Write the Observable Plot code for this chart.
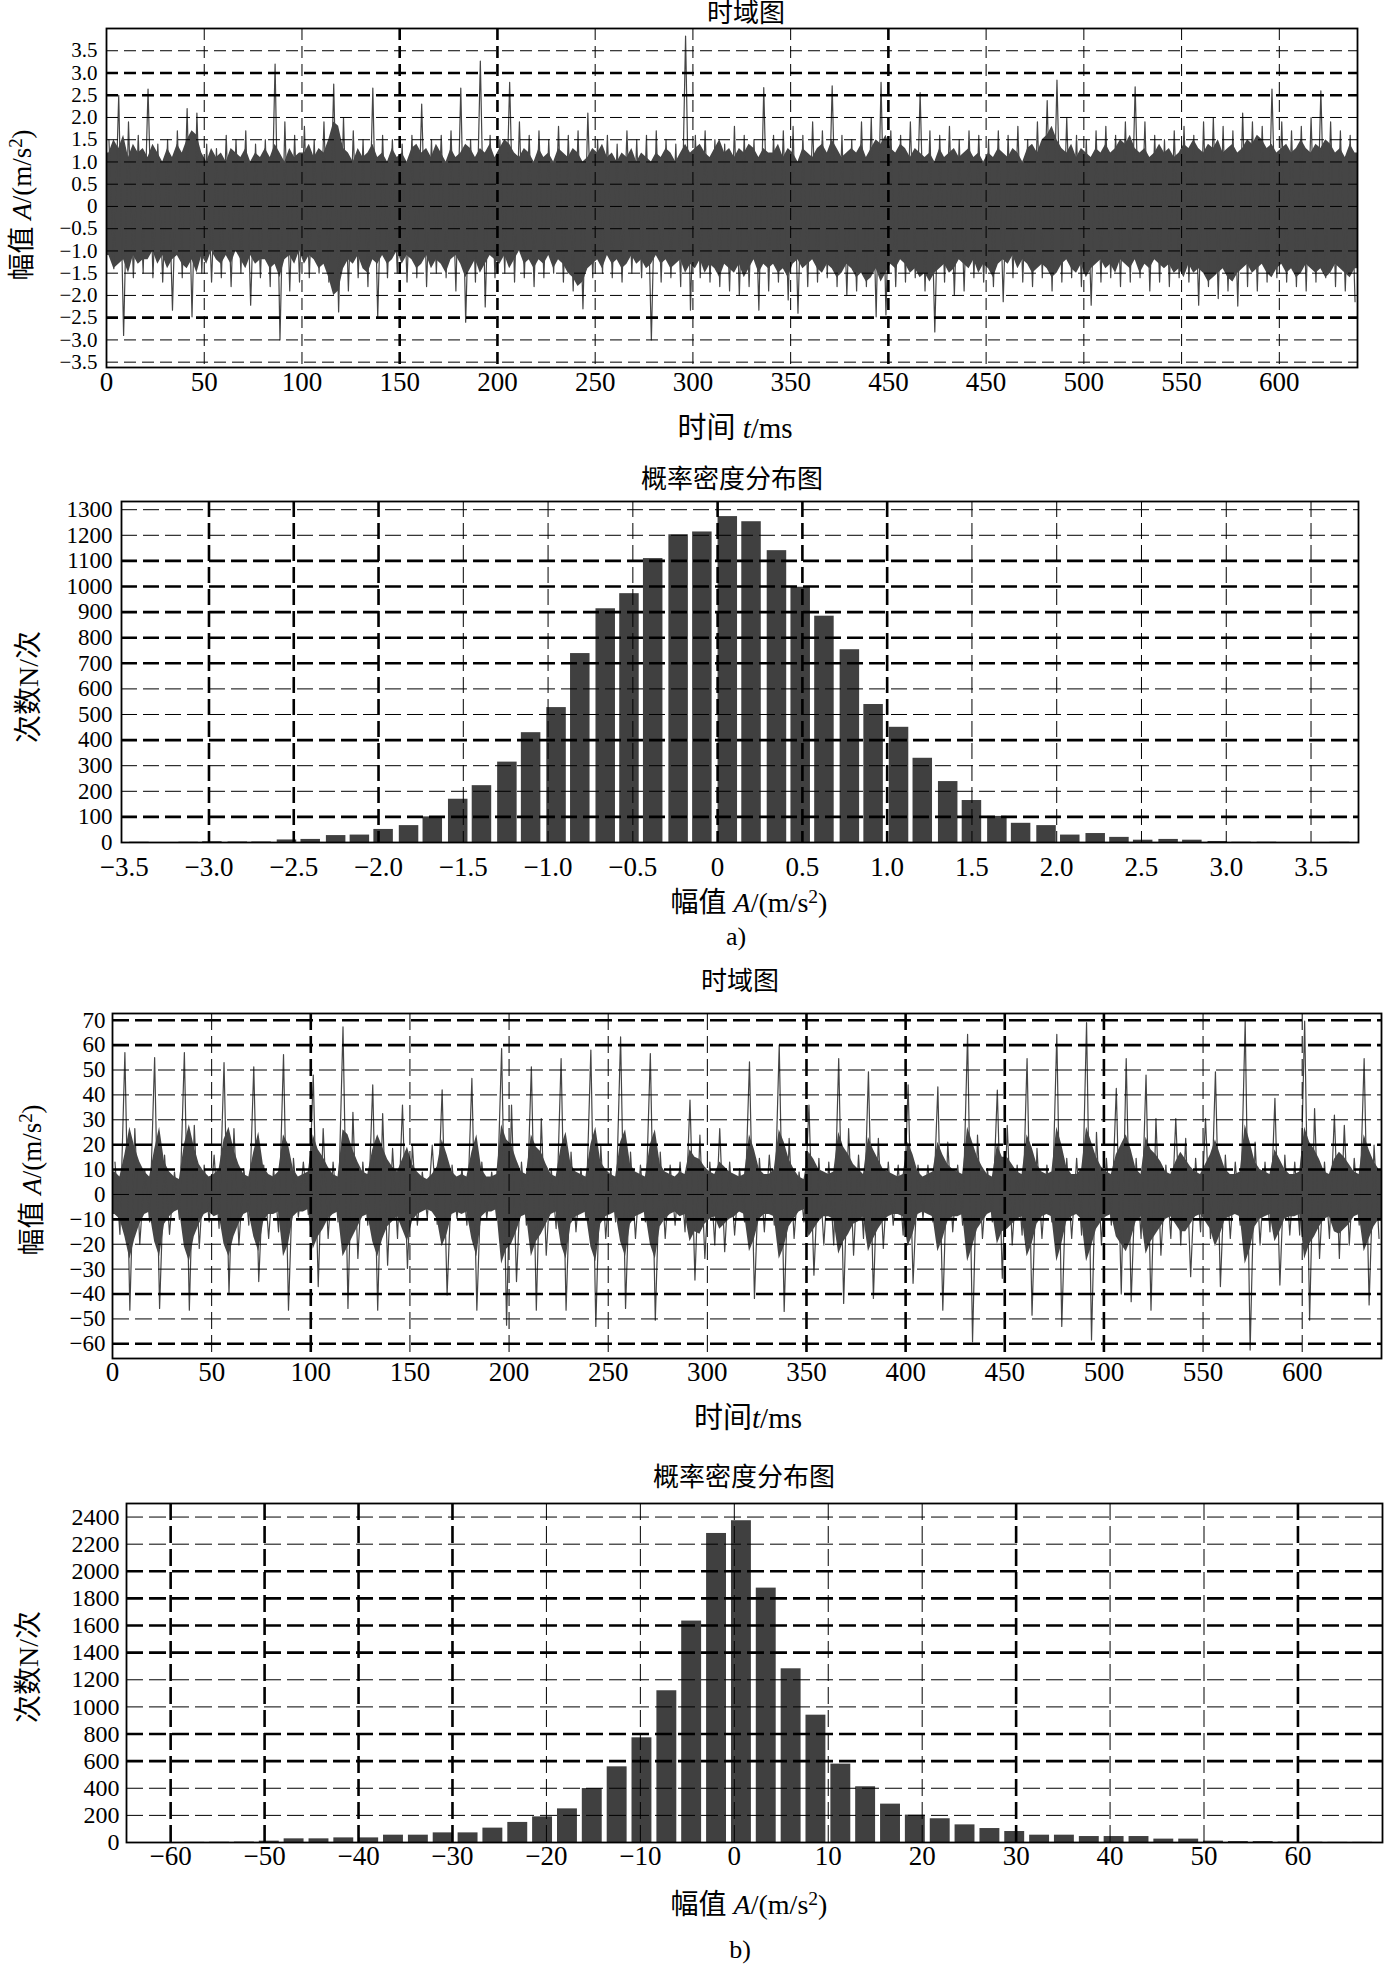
<!DOCTYPE html>
<html><head><meta charset="utf-8">
<script src="https://cdn.jsdelivr.net/npm/d3@7"></script>
<script src="https://cdn.jsdelivr.net/npm/@observablehq/plot@0.6"></script>
<style>
body{margin:0;background:#fff;}
#root{position:relative;width:1384px;height:1977px;overflow:hidden;font-family:"Liberation Serif","Noto Sans CJK SC",serif;color:#000;}
.lbl{position:absolute;white-space:nowrap;line-height:1;}
.lbl i{font-family:"Liberation Serif",serif;font-style:italic;}
.lbl sup{font-size:0.7em;vertical-align:0.45em;line-height:0;}
</style></head>
<body><div id="root"></div>
<script>
// ---------- Panel a: time-domain signal ----------
// spike extremes per 5 ms bin
const hiA = [1.5, 2.5, 1.9, 1.6, 2.64, 1.4, 1.5, 1.7, 2.2, 2.1,
 1.4, 1.3, 1.6, 1.5, 1.7, 1.4, 1.5, 3.2, 1.9, 1.6,
 1.8, 1.5, 1.9, 2.75, 2.0, 1.7, 1.5, 2.66, 1.6, 1.5,
 1.4, 1.6, 2.3, 1.5, 1.6, 1.7, 2.66, 1.5, 3.27, 1.6,
 1.5, 2.79, 1.9, 1.6, 1.7, 1.5, 1.8, 1.6, 1.7, 2.1,
 1.5, 1.6, 1.4, 1.7, 1.5, 1.6, 1.7, 1.5, 1.4, 3.83,
 1.6, 1.7, 1.5, 1.4, 1.8, 1.6, 1.5, 2.67, 1.6, 1.7,
 1.8, 1.6, 1.9, 1.7, 2.71, 1.6, 1.5, 1.9, 2.0, 2.79,
 1.7, 1.6, 1.9, 2.56, 1.7, 1.6, 1.8, 1.5, 1.7, 1.6,
 1.5, 1.7, 1.6, 1.8, 1.5, 1.9, 2.38, 2.84, 2.0, 1.6,
 1.5, 1.7, 1.8, 1.6, 1.9, 2.69, 1.9, 1.6, 1.5, 1.7,
 1.8, 1.6, 1.9, 2.0, 1.8, 1.7, 2.1, 1.9, 1.8, 2.64,
 1.9, 1.7, 1.8, 2.0, 2.6, 1.9, 1.7, 1.6];
const loA = [-1.4, -2.9, -1.6, -1.5, -1.6, -1.7, -2.33, -1.6, -2.48, -1.5,
 -1.7, -1.6, -1.8, -1.5, -2.22, -1.6, -1.8, -3.0, -1.9, -1.7,
 -1.6, -1.5, -1.7, -2.37, -1.9, -1.6, -1.8, -2.48, -1.6, -1.5,
 -1.7, -1.6, -1.8, -1.5, -1.6, -1.9, -2.6, -1.7, -2.26, -1.6,
 -1.5, -1.7, -1.6, -1.8, -1.6, -1.5, -1.7, -1.9, -2.3, -1.6,
 -1.5, -1.6, -1.7, -1.5, -1.6, -3.0, -1.7, -1.6, -1.8, -2.33,
 -1.6, -1.7, -1.8, -1.9, -2.0, -1.8, -2.33, -1.9, -1.7, -2.1,
 -2.4, -1.8, -1.7, -1.6, -1.8, -2.0, -1.9, -1.8, -2.48, -2.44,
 -1.8, -1.7, -1.6, -1.9, -2.82, -1.7, -2.0, -1.9, -1.6, -1.7,
 -1.8, -2.14, -1.6, -1.7, -1.8, -1.6, -1.9, -1.7, -1.6, -1.8,
 -2.22, -1.7, -1.6, -1.8, -1.7, -1.6, -1.9, -1.7, -1.8, -1.6,
 -1.7, -2.22, -1.8, -2.07, -1.9, -2.24, -1.8, -1.9, -1.7, -1.6,
 -1.7, -1.8, -1.9, -1.7, -1.6, -1.8, -1.9, -2.14];
// dense band envelope per 2.5 ms
const envHiA = [1.2, 1.5, 1.3, 1.6, 1.1, 1.4, 1.2, 1.3, 1.1, 1.4, 1.2, 1.0, 1.3, 1.1, 1.4, 1.2,
 1.5, 1.7, 1.6, 1.2, 1.0, 1.3, 1.1, 1.2, 1.0, 1.3, 1.2, 1.1, 1.3, 1.0, 1.2, 1.1,
 1.3, 1.1, 1.4, 1.2, 1.0, 1.3, 1.1, 1.2, 1.2, 1.4, 1.1, 1.3, 1.2, 1.5, 1.9, 1.8,
 1.3, 1.2, 1.0, 1.3, 1.1, 1.2, 1.4, 1.1, 1.2, 1.0, 1.3, 1.1, 1.2, 1.0, 1.3, 1.4,
 1.2, 1.3, 1.1, 1.4, 1.2, 1.0, 1.3, 1.1, 1.2, 1.4, 1.3, 1.1, 1.3, 1.2, 1.4, 1.1,
 1.3, 1.5, 1.4, 1.2, 1.1, 1.3, 1.2, 1.0, 1.3, 1.1, 1.2, 1.0, 1.3, 1.2, 1.1, 1.3,
 1.2, 1.0, 1.1, 1.3, 1.2, 1.4, 1.1, 1.2, 1.0, 1.2, 1.1, 1.3, 1.0, 1.2, 1.1, 1.0,
 1.2, 1.1, 1.3, 1.2, 1.0, 1.2, 1.4, 1.2, 1.3, 1.4, 1.2, 1.1, 1.3, 1.5, 1.2, 1.3,
 1.1, 1.3, 1.2, 1.4, 1.3, 1.1, 1.3, 1.2, 1.2, 1.4, 1.1, 1.3, 1.2, 1.0, 1.3, 1.2,
 1.1, 1.3, 1.4, 1.2, 1.5, 1.3, 1.1, 1.2, 1.3, 1.2, 1.4, 1.1, 1.3, 1.5, 1.4, 1.6,
 1.3, 1.2, 1.4, 1.3, 1.1, 1.3, 1.2, 1.1, 1.2, 1.0, 1.3, 1.1, 1.2, 1.3, 1.1, 1.2,
 1.3, 1.1, 1.2, 1.0, 1.2, 1.1, 1.3, 1.2, 1.1, 1.3, 1.2, 1.0, 1.3, 1.4, 1.2, 1.5,
 1.6, 1.8, 1.5, 1.3, 1.2, 1.4, 1.1, 1.3, 1.2, 1.1, 1.3, 1.2, 1.4, 1.2, 1.3, 1.5,
 1.4, 1.6, 1.3, 1.2, 1.3, 1.1, 1.2, 1.4, 1.2, 1.3, 1.1, 1.2, 1.4, 1.3, 1.5, 1.3,
 1.2, 1.4, 1.3, 1.5, 1.2, 1.3, 1.4, 1.2, 1.3, 1.5, 1.4, 1.6, 1.5, 1.3, 1.4, 1.2,
 1.3, 1.4, 1.2, 1.3, 1.5, 1.3, 1.2, 1.4, 1.3, 1.5, 1.4, 1.2, 1.3, 1.1, 1.4, 1.2];
const envLoA = [-1.1, -1.4, -1.3, -1.2, -1.5, -1.1, -1.3, -1.2, -1.2, -1.0, -1.3, -1.1, -1.4, -1.2, -1.1, -1.3,
 -1.4, -1.2, -1.5, -1.1, -1.3, -1.0, -1.2, -1.3, -1.1, -1.3, -1.0, -1.2, -1.4, -1.1, -1.3, -1.2,
 -1.2, -1.4, -1.3, -1.6, -1.2, -1.1, -1.3, -1.0, -1.3, -1.1, -1.2, -1.4, -1.3, -1.6, -2.0, -1.9,
 -1.4, -1.2, -1.3, -1.1, -1.4, -1.5, -1.2, -1.3, -1.1, -1.3, -1.2, -1.0, -1.3, -1.1, -1.2, -1.4,
 -1.3, -1.1, -1.4, -1.2, -1.3, -1.5, -1.2, -1.1, -1.3, -1.6, -1.4, -1.2, -1.5, -1.3, -1.1, -1.2,
 -1.3, -1.1, -1.4, -1.2, -1.0, -1.3, -1.2, -1.4, -1.2, -1.3, -1.1, -1.4, -1.2, -1.3, -1.5, -1.6,
 -1.8, -1.7, -1.4, -1.3, -1.2, -1.4, -1.1, -1.3, -1.2, -1.4, -1.3, -1.1, -1.3, -1.2, -1.4, -1.3,
 -1.1, -1.3, -1.2, -1.4, -1.3, -1.2, -1.5, -1.3, -1.4, -1.2, -1.5, -1.3, -1.4, -1.6, -1.3, -1.4,
 -1.5, -1.3, -1.6, -1.4, -1.2, -1.5, -1.3, -1.4, -1.3, -1.5, -1.4, -1.6, -1.3, -1.2, -1.4, -1.3,
 -1.2, -1.4, -1.5, -1.3, -1.4, -1.6, -1.5, -1.3, -1.4, -1.6, -1.5, -1.7, -1.6, -1.4, -1.7, -1.5,
 -1.3, -1.4, -1.2, -1.3, -1.5, -1.4, -1.6, -1.5, -1.7, -1.5, -1.4, -1.3, -1.5, -1.4, -1.2, -1.3,
 -1.4, -1.2, -1.5, -1.3, -1.4, -1.6, -1.3, -1.2, -1.3, -1.1, -1.4, -1.2, -1.3, -1.5, -1.4, -1.3,
 -1.4, -1.6, -1.5, -1.3, -1.2, -1.4, -1.5, -1.3, -1.6, -1.4, -1.3, -1.2, -1.4, -1.3, -1.5, -1.2,
 -1.3, -1.4, -1.2, -1.5, -1.3, -1.4, -1.2, -1.3, -1.4, -1.3, -1.5, -1.4, -1.6, -1.3, -1.5, -1.4,
 -1.5, -1.7, -1.6, -1.5, -1.4, -1.6, -1.7, -1.5, -1.4, -1.3, -1.5, -1.4, -1.3, -1.5, -1.6, -1.4,
 -1.3, -1.5, -1.4, -1.6, -1.5, -1.3, -1.4, -1.5, -1.4, -1.6, -1.5, -1.3, -1.4, -1.5, -1.6, -1.4];
const timeTicksA = [0, 50, 100, 150, 200, 250, 300, 350, 400, 450, 500, 550, 600];
const timeTickLabelsA = ["0", "50", "100", "150", "200", "250", "300", "350", "450", "450", "500", "550", "600"];
const ampTicksA = [-3.5, -3, -2.5, -2, -1.5, -1, -0.5, 0, 0.5, 1, 1.5, 2, 2.5, 3, 3.5];

// ---------- Histogram a ----------
const binCentersA = [-3.41, -3.27, -3.12, -2.98, -2.83, -2.69, -2.54, -2.40, -2.25, -2.11,
 -1.97, -1.82, -1.68, -1.53, -1.39, -1.24, -1.10, -0.95, -0.81, -0.66,
 -0.52, -0.38, -0.23, -0.09, 0.06, 0.20, 0.35, 0.49, 0.63, 0.78,
 0.92, 1.07, 1.21, 1.36, 1.50, 1.65, 1.79, 1.94, 2.08, 2.23,
 2.37, 2.51, 2.66, 2.80, 2.95, 3.09, 3.24, 3.38, 3.53, 3.67];
const countsA = [1, 0, 1, 3, 2, 2, 10, 12, 27, 29,
 51, 66, 100, 169, 222, 314, 429, 527, 738, 913,
 972, 1109, 1202, 1213, 1273, 1253, 1140, 997, 884, 753,
 539, 450, 329, 238, 164, 102, 75, 66, 29, 35,
 20, 9, 12, 9, 4, 1, 1, 0, 0, 1];
const histXTicksA = [-3.5, -3, -2.5, -2, -1.5, -1, -0.5, 0, 0.5, 1, 1.5, 2, 2.5, 3, 3.5];
const histYTicksA = [0, 100, 200, 300, 400, 500, 600, 700, 800, 900, 1000, 1100, 1200, 1300];

// ---------- Panel b: time-domain signal ----------
const hiB = [13, 57, 26.5, 10, 55, 15.8, 9, 57, 27.8, 11.8,
 15.8, 53, 26.5, 10.4, 51.3, 11.8, 10.4, 56.2, 14.5, 13,
 48, 26.5, 13, 67.3, 33, 13, 44, 32.5, 18.5, 35.9,
 19.8, 9, 19.8, 42, 11.8, 10.4, 46.6, 13, 9, 58.6,
 35.9, 13, 51.3, 30.5, 10.4, 54.6, 17, 10.4, 58, 19.8,
 10.4, 63.3, 17, 11.8, 56.6, 17, 11.8, 13, 37.9, 23.8,
 13, 26.5, 13, 10.4, 53.3, 14.5, 15.8, 60, 22.5, 9,
 35.9, 14.5, 13, 54.6, 26.5, 15.8, 49.3, 22.5, 13, 11.8,
 44, 11.8, 11.8, 43.2, 21, 11.8, 64.3, 23.8, 10.4, 41.9,
 27.8, 11.8, 54.6, 18.5, 11.8, 64.3, 14.5, 14.5, 69, 25,
 14.5, 42.6, 54.6, 14.5, 48, 30.5, 11.8, 30.5, 22.5, 14.5,
 30.5, 49.3, 15.8, 13, 69.6, 21, 13, 38.6, 15.8, 13,
 69.6, 34.5, 13, 31.9, 27.8, 14.5, 54.6, 19.8];
const loB = [-16, -46.5, -20, -11, -45.8, -16, -10, -46.5, -21.7, -11,
 -13.6, -39.8, -20.3, -12.3, -35, -17.7, -15, -46.5, -9, -8,
 -37, -17.7, -11, -45.8, -25.7, -12.3, -46.5, -28.4, -17.7, -29.7,
 -12.3, -9.6, -12, -40.4, -9.6, -12.3, -46.5, -9.6, -9.6, -52.5,
 -35, -12.3, -46.5, -24.4, -13.7, -46.5, -15, -9.6, -53, -17.7,
 -11, -45.8, -17.7, -11, -50.5, -17.7, -12.3, -15, -34.4, -25.7,
 -20.3, -23, -16.3, -11, -41.8, -15, -12.3, -47, -17.7, -11,
 -32.4, -20.3, -20.3, -43.8, -24.4, -17.7, -41.8, -21.7, -12.3, -16.3,
 -35.7, -9.6, -11, -46.5, -15, -12.3, -59.2, -17.7, -11, -33.7,
 -20.3, -16.3, -48.5, -17.7, -11, -53, -17.7, -16.3, -58.5, -20.3,
 -12.3, -40, -43.1, -17.7, -46.5, -24.4, -17.7, -20.3, -33, -15,
 -17.7, -37, -17.7, -12.3, -62.5, -20.3, -15, -36.4, -16.3, -16.3,
 -50.5, -25.7, -17.7, -25.7, -20.3, -12.3, -44.4, -17.7];
const envHiB = [9, 7, 16, 27, 19, 13, 9, 7, 18, 27, 13, 9, 7, 6, 20, 28, 19, 12, 9, 7,
 8, 10, 22, 27, 18, 12, 8, 7, 17, 25, 11, 8, 7, 9, 24, 20, 10, 7, 8, 9,
 24, 18, 15, 11, 8, 7, 26, 24, 18, 13, 9, 8, 18, 24, 19, 14, 11, 9, 14, 19,
 12, 9, 7, 6, 8, 11, 22, 16, 9, 7, 8, 7, 17, 24, 10, 7, 7, 8, 28, 22,
 20, 14, 9, 8, 24, 19, 17, 12, 8, 7, 19, 25, 12, 9, 8, 7, 20, 27, 13, 10,
 8, 7, 21, 26, 12, 9, 8, 7, 20, 26, 12, 9, 8, 7, 9, 8, 18, 15, 14, 11,
 9, 8, 13, 11, 9, 8, 7, 8, 24, 18, 10, 8, 8, 10, 26, 21, 14, 10, 7, 6,
 17, 14, 10, 9, 8, 9, 25, 19, 16, 12, 10, 8, 23, 18, 14, 10, 9, 8, 7, 8,
 21, 16, 9, 7, 8, 9, 21, 16, 12, 10, 9, 8, 27, 21, 15, 11, 8, 7, 20, 15,
 15, 12, 9, 8, 24, 19, 12, 9, 8, 9, 27, 20, 11, 8, 8, 10, 27, 21, 15, 11,
 9, 8, 16, 20, 24, 18, 10, 8, 23, 18, 16, 13, 9, 8, 13, 17, 14, 11, 9, 8,
 12, 16, 22, 16, 10, 8, 8, 9, 28, 21, 13, 10, 9, 8, 18, 14, 10, 8, 8, 9,
 27, 21, 18, 14, 9, 8, 14, 17, 15, 12, 9, 8, 24, 18, 13, 10];
const envLoB = [-8, -10, -17, -26, -18, -12, -8, -7, -19, -25, -12, -9, -7, -6, -21, -27, -17, -12, -8, -7,
 -9, -8, -20, -25, -17, -12, -8, -7, -17, -23, -11, -8, -8, -7, -25, -20, -9, -7, -7, -6,
 -22, -17, -14, -10, -8, -7, -25, -21, -17, -13, -9, -8, -19, -25, -18, -13, -11, -9, -14, -19,
 -11, -8, -7, -6, -7, -10, -21, -16, -8, -7, -8, -7, -18, -25, -9, -7, -7, -6, -28, -22,
 -20, -15, -9, -8, -25, -19, -16, -12, -8, -7, -20, -26, -12, -9, -8, -7, -21, -27, -12, -9,
 -8, -7, -19, -25, -12, -9, -8, -7, -20, -26, -13, -10, -8, -7, -9, -8, -19, -15, -16, -12,
 -10, -9, -14, -12, -10, -9, -7, -8, -23, -18, -10, -8, -8, -9, -26, -21, -13, -10, -7, -6,
 -17, -14, -11, -9, -9, -10, -24, -19, -16, -12, -11, -9, -23, -18, -14, -11, -9, -8, -8, -9,
 -21, -16, -8, -7, -8, -9, -23, -18, -11, -9, -9, -8, -27, -21, -14, -11, -8, -7, -20, -15,
 -14, -12, -10, -9, -25, -20, -12, -9, -8, -9, -27, -20, -11, -9, -8, -10, -27, -21, -14, -11,
 -9, -8, -17, -20, -23, -18, -11, -9, -24, -19, -16, -13, -10, -9, -12, -15, -15, -12, -9, -8,
 -11, -14, -21, -16, -10, -9, -8, -9, -28, -22, -13, -10, -9, -8, -19, -15, -10, -9, -9, -8,
 -26, -20, -17, -13, -10, -9, -15, -16, -14, -12, -9, -8, -23, -18, -13, -10];
const timeTicksB = [0, 50, 100, 150, 200, 250, 300, 350, 400, 450, 500, 550, 600];
const ampTicksB = [-60, -50, -40, -30, -20, -10, 0, 10, 20, 30, 40, 50, 60, 70];

// ---------- Histogram b ----------
const binCentersB = [-57.44, -54.79, -52.15, -49.50, -46.86, -44.21, -41.57, -38.92, -36.28, -33.63,
 -30.99, -28.34, -25.70, -23.05, -20.41, -17.76, -15.12, -12.47, -9.83, -7.18,
 -4.54, -1.89, 0.76, 3.40, 6.05, 8.69, 11.34, 13.98, 16.63, 19.27,
 21.92, 24.56, 27.21, 29.85, 32.50, 35.14, 37.79, 40.43, 43.08, 45.72,
 48.37, 51.01, 53.66, 56.30, 58.95, 61.59, 64.24, 66.88];
const countsB = [1, 2, 3, 10, 27, 27, 34, 34, 54, 54,
 71, 71, 106, 148, 189, 248, 398, 558, 772, 1119,
 1633, 2279, 2373, 1876, 1281, 939, 578, 411, 283, 202,
 175, 130, 103, 81, 54, 54, 44, 44, 44, 25,
 25, 10, 7, 7, 3, 2, 1, 1];
const histXTicksB = [-60, -50, -40, -30, -20, -10, 0, 10, 20, 30, 40, 50, 60];
const histYTicksB = [0, 200, 400, 600, 800, 1000, 1200, 1400, 1600, 1800, 2000, 2200, 2400];

// ---------- helpers ----------
const W = 1384;
const SIG = "#454545";
const BAR = "#404040";
const root = document.getElementById("root");
const fmt1 = d => d === 0 ? "0" : d3.format(".1f")(d);
const fmt0 = d => d3.format("d")(d);

function label(html, cx, cy, size, rotate) {
  const el = document.createElement("div");
  el.className = "lbl";
  el.innerHTML = html;
  el.style.left = cx + "px";
  el.style.top = cy + "px";
  el.style.fontSize = size + "px";
  el.style.transform = "translate(-50%,-50%)" + (rotate ? " rotate(-90deg)" : "");
  root.append(el);
}

function panel(o) {
  const thinX = o.xGrid.filter(v => !o.boldX.includes(v));
  const thinY = o.yGrid.filter(v => !o.boldY.includes(v));
  const chart = Plot.plot({
    width: W, height: o.height,
    marginLeft: o.left, marginRight: W - o.right,
    marginTop: o.frameTop - o.top, marginBottom: o.top + o.height - o.frameBottom,
    x: {domain: o.xDomain}, y: {domain: o.yDomain},
    style: {fontFamily: '"Liberation Serif", serif', fontSize: "25px", background: "transparent", overflow: "visible", color: "#000"},
    marks: [
      ...o.marks,
      Plot.ruleX(thinX, {stroke: "#000", strokeWidth: 1, strokeDasharray: o.dash}),
      Plot.ruleX(o.boldX, {stroke: "#000", strokeWidth: 2.6, strokeDasharray: o.dash}),
      Plot.ruleY(thinY, {stroke: "#000", strokeWidth: 1, strokeDasharray: o.dash}),
      Plot.ruleY(o.boldY, {stroke: "#000", strokeWidth: 2.6, strokeDasharray: o.dash}),
      Plot.frame({stroke: "#000", strokeWidth: 1.8}),
      Plot.axisX(o.xTicks, {tickSize: 0, tickPadding: o.xPad, tickFormat: o.xFmt, fontSize: o.xFont, label: null, fill: "#000"}),
      Plot.axisY(o.yTicks, {tickSize: 0, tickPadding: o.yPad, tickFormat: o.yFmt, fontSize: o.yFont, label: null, fill: "#000"})
    ]
  });
  chart.style.position = "absolute";
  chart.style.left = "0px";
  chart.style.top = o.top + "px";
  root.append(chart);
}

// dense band: envelope points at the centre of each 2.5 ms step, held to the panel edges
function band(hi, lo, step, tMax) {
  const pts = hi.map((h, i) => ({t: i * step + step / 2, hi: h, lo: lo[i]}));
  return [{t: 0, hi: hi[0], lo: lo[0]}, ...pts, {t: tMax, hi: hi[hi.length - 1], lo: lo[lo.length - 1]}];
}
// spikes: maximum then minimum of each 5 ms step, joined as the trace goes
function spikes(hi, lo, step) {
  return hi.flatMap((h, i) => [{t: i * step + step * 0.25, v: h}, {t: i * step + step * 0.75, v: lo[i]}]);
}

// ---------- Panel a ----------
panel({
  top: 0, height: 450, left: 106, right: 1357, frameTop: 28, frameBottom: 367,
  xDomain: [0, 640], yDomain: [-3.62, 4.0],
  xTicks: timeTicksA, yTicks: ampTicksA,
  xFmt: d => timeTickLabelsA[timeTicksA.indexOf(d)], yFmt: fmt1,
  xPad: 4, yPad: 9, xFont: 27, yFont: 21,
  xGrid: timeTicksA.filter(v => v > 0), yGrid: ampTicksA,
  boldX: [150, 200, 400], boldY: [3, 2.5, -2.5],
  dash: "12,6",
  marks: [
    Plot.areaY(band(envHiA, envLoA, 2.5, 640), {x: "t", y1: "lo", y2: "hi", fill: SIG}),
    Plot.line(spikes(hiA, loA, 5), {x: "t", y: "v", stroke: SIG, strokeWidth: 1.2})
  ]
});
label("时域图", 746, 14, 26);
label("时间 <i>t</i>/ms", 735, 428, 29);
label("幅值 <i>A</i>/(m/s<sup>2</sup>)", 22, 205, 27, true);

// ---------- Histogram a ----------
const histA = binCentersA.map((c, i) => ({c, n: countsA[i]}));
panel({
  top: 460, height: 440, left: 121, right: 1358, frameTop: 501, frameBottom: 842,
  xDomain: [-3.516, 3.78], yDomain: [0, 1332],
  xTicks: histXTicksA, yTicks: histYTicksA,
  xFmt: fmt1, yFmt: fmt0,
  xPad: 14, yPad: 9, xFont: 27, yFont: 23,
  xGrid: histXTicksA.filter(v => v > -3.5), yGrid: histYTicksA.filter(v => v > 0),
  boldX: [-3, -2.5, -2, 0, 0.5, 1], boldY: [100, 400, 700, 800, 900, 1000, 1100],
  dash: "16,6",
  marks: [
    Plot.rectY(histA, {x1: d => d.c - 0.0575, x2: d => d.c + 0.0575, y: "n", fill: BAR})
  ]
});
label("概率密度分布图", 732, 480, 26);
label("幅值 <i>A</i>/(m/s<sup>2</sup>)", 749, 903, 28);
label("次数N/次", 29, 687, 28, true);
label("a)", 736, 937, 26);

// ---------- Panel b ----------
panel({
  top: 990, height: 450, left: 112, right: 1381, frameTop: 1013, frameBottom: 1358,
  xDomain: [0, 640], yDomain: [-65.9, 72.7],
  xTicks: timeTicksB, yTicks: ampTicksB,
  xFmt: fmt0, yFmt: fmt0,
  xPad: 3, yPad: 7, xFont: 27, yFont: 23,
  xGrid: timeTicksB.filter(v => v > 0), yGrid: ampTicksB,
  boldX: [100, 350, 400, 450, 500], boldY: [70, 60, 20, 10, -10, -40, -60],
  dash: "17,6",
  marks: [
    Plot.areaY(band(envHiB, envLoB, 2.5, 640), {x: "t", y1: "lo", y2: "hi", fill: SIG}),
    Plot.line(spikes(hiB, loB, 5), {x: "t", y: "v", stroke: SIG, strokeWidth: 1.2})
  ]
});
label("时域图", 740, 982, 26);
label("时间<i>t</i>/ms", 748, 1418, 29);
label("幅值 <i>A</i>/(m/s<sup>2</sup>)", 32, 1180, 27, true);

// ---------- Histogram b ----------
const histB = binCentersB.map((c, i) => ({c, n: countsB[i]}));
panel({
  top: 1460, height: 500, left: 126, right: 1382, frameTop: 1503, frameBottom: 1842,
  xDomain: [-64.7, 69], yDomain: [0, 2500],
  xTicks: histXTicksB, yTicks: histYTicksB,
  xFmt: fmt0, yFmt: fmt0,
  xPad: 3, yPad: 7, xFont: 27, yFont: 24,
  xGrid: histXTicksB, yGrid: histYTicksB.filter(v => v > 0),
  boldX: [-60, -50, -40, -30, 30, 60], boldY: [600, 800, 1400, 1600, 1800, 2000],
  dash: "17,6",
  marks: [
    Plot.rectY(histB, {x1: d => d.c - 1.06, x2: d => d.c + 1.06, y: "n", fill: BAR})
  ]
});
label("概率密度分布图", 744, 1478, 26);
label("幅值 <i>A</i>/(m/s<sup>2</sup>)", 749, 1905, 28);
label("次数N/次", 29, 1667, 28, true);
label("b)", 740, 1950, 26);
</script>
</body></html>
